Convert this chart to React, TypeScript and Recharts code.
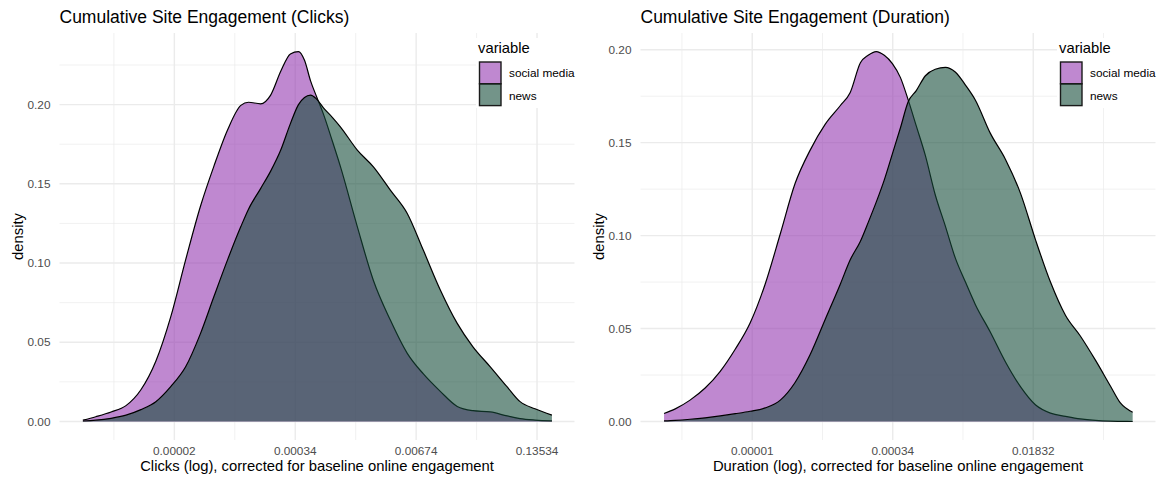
import React from 'react';
import { AreaChart, Area, XAxis, YAxis, CartesianGrid } from 'recharts';

const FONT = '"Liberation Sans", Arial, Helvetica, sans-serif';

// Series colours (drawn at 60% opacity, news on top of social media)
const SOCIAL_COLOR = '#9439B1';
const NEWS_COLOR = '#164D3A';
const FILL_OPACITY = 0.6;

const seriesNames = ['social media', 'news'];

// ---- Clicks panel: log(clicks) positions and density estimates ----
const clicksX = [
  -13.27, -12.95, -12.57, -12.2, -11.83, -11.46, -11.09, -10.72, -10.35, -10.02,
  -9.68, -9.35, -9.16, -8.86, -8.61, -8.36, -8.12, -7.92, -7.77, -7.62,
  -7.47, -7.3, -7.08, -6.88, -6.46, -6.06, -5.64, -5.22, -4.82, -4.4,
  -3.98, -3.59, -3.16, -2.74, -2.42, -2.05, -1.63,
];
const clicksSocial = [
  0.0008, 0.003, 0.006, 0.01, 0.02, 0.038, 0.066, 0.102, 0.136, 0.161,
  0.184, 0.1995, 0.2015, 0.2005, 0.206, 0.221, 0.232, 0.2335, 0.228, 0.215,
  0.205, 0.194, 0.177, 0.161, 0.123, 0.089, 0.064, 0.043, 0.03, 0.019,
  0.0095, 0.0068, 0.006, 0.0035, 0.0018, 0.0009, 0.0004,
];
const clicksNews = [
  0.0003, 0.0008, 0.002, 0.004, 0.0075, 0.0125, 0.022, 0.0345, 0.0556, 0.0787,
  0.102, 0.123, 0.134, 0.147, 0.158, 0.1713, 0.188, 0.2, 0.2045, 0.206,
  0.2035, 0.198, 0.192, 0.186, 0.1713, 0.1607, 0.146, 0.1313, 0.108, 0.083,
  0.0619, 0.0471, 0.0345, 0.0218, 0.0125, 0.008, 0.004,
];
const clicksTicks = [-11, -8, -5, -2];
const clicksTickLabels = ['0.00002', '0.00034', '0.00674', '0.13534'];
const clicksMinorX = [-12.5, -9.5, -6.5, -3.5];
const clicksDensityTicks = [0, 0.05, 0.1, 0.15, 0.2];
const clicksMinorY = [0.025, 0.075, 0.125, 0.175, 0.225];
const clicksXDomain = [-13.85, -1.07];
const clicksYDomain = [-0.0117, 0.2452];

// ---- Duration panel: log(duration) positions and density estimates ----
const durationX = [
  -14.51, -14.19, -13.77, -13.34, -12.91, -12.48, -12.06, -11.63, -11.2, -10.78,
  -10.35, -9.92, -9.49, -9.21, -8.92, -8.7, -8.47, -8.24, -8.01, -7.78,
  -7.56, -7.33, -7.07, -6.79, -6.5, -6.22, -5.93, -5.65, -5.22, -4.79,
  -4.36, -3.94, -3.51, -3.08, -2.66, -2.23, -1.8, -1.52, -1.17,
];
const durationSocial = [
  0.0043, 0.0068, 0.0115, 0.018, 0.027, 0.039, 0.053, 0.074, 0.101, 0.128,
  0.146, 0.16, 0.17, 0.177, 0.193, 0.197, 0.199, 0.197, 0.1925, 0.185,
  0.173, 0.159, 0.143, 0.122, 0.105, 0.088, 0.075, 0.063, 0.048, 0.032,
  0.0186, 0.009, 0.0045, 0.0028, 0.0014, 0.0006, 0.0002, 0.0001, 0.0,
];
const durationNews = [
  0.0003, 0.0006, 0.0012, 0.002, 0.003, 0.0042, 0.0055, 0.0073, 0.0115, 0.021,
  0.036, 0.055, 0.074, 0.087, 0.097, 0.107, 0.118, 0.13, 0.144, 0.158,
  0.172, 0.178, 0.186, 0.1895, 0.1905, 0.188, 0.181, 0.173, 0.155, 0.141,
  0.1226, 0.098, 0.075, 0.057, 0.046, 0.033, 0.019, 0.01, 0.005,
];
const durationTicks = [-12, -8, -4];
const durationTickLabels = ['0.00001', '0.00034', '0.01832'];
const durationMinorX = [-14, -10, -6, -2];
const durationDensityTicks = [0, 0.05, 0.1, 0.15, 0.2];
const durationMinorY = [0.025, 0.075, 0.125, 0.175];
const durationXDomain = [-15.18, -0.52];
const durationYDomain = [-0.00995, 0.209];

const PANEL_W = 581;
const PANEL_H = 478;

type PanelProps = {
  x: number[];
  social: number[];
  news: number[];
  xTicks: number[];
  xLabels: string[];
  xMinor: number[];
  xDomain: number[];
  yTicks: number[];
  yMinor: number[];
  yDomain: number[];
};

function DensityPanel(p: PanelProps) {
  const data = p.x.map((x, i) => ({ x, social: p.social[i], news: p.news[i] }));
  const tickStyle = { fill: '#4D4D4D', fontSize: 11.8, fontFamily: FONT };
  return (
    <AreaChart
      width={PANEL_W}
      height={PANEL_H}
      data={data}
      margin={{ top: 33, right: 6.5, bottom: 0, left: 0 }}
    >
      <CartesianGrid
        stroke="#EBEBEB"
        strokeWidth={0.7}
        verticalValues={p.xMinor}
        horizontalValues={p.yMinor}
      />
      <CartesianGrid
        stroke="#EBEBEB"
        strokeWidth={1.4}
        verticalValues={p.xTicks}
        horizontalValues={p.yTicks}
      />
      <XAxis
        type="number"
        dataKey="x"
        domain={p.xDomain}
        ticks={p.xTicks}
        interval={0}
        allowDataOverflow
        tickFormatter={(v: number) => p.xLabels[p.xTicks.indexOf(v)] ?? ''}
        axisLine={false}
        tickLine={false}
        tickSize={0}
        tickMargin={7}
        height={38}
        tick={tickStyle}
      />
      <YAxis
        type="number"
        domain={p.yDomain}
        ticks={p.yTicks}
        interval={0}
        allowDataOverflow
        tickFormatter={(v: number) => v.toFixed(2)}
        axisLine={false}
        tickLine={false}
        tickSize={0}
        tickMargin={9}
        width={59.5}
        tick={tickStyle}
      />
      <Area
        type="monotone"
        dataKey="social"
        name={seriesNames[0]}
        baseValue={0}
        fill={SOCIAL_COLOR}
        fillOpacity={FILL_OPACITY}
        stroke="#000000"
        strokeWidth={1.2}
        dot={false}
        activeDot={false}
        isAnimationActive={false}
      />
      <Area
        type="monotone"
        dataKey="news"
        name={seriesNames[1]}
        baseValue={0}
        fill={NEWS_COLOR}
        fillOpacity={FILL_OPACITY}
        stroke="#000000"
        strokeWidth={1.2}
        dot={false}
        activeDot={false}
        isAnimationActive={false}
      />
    </AreaChart>
  );
}

// Titles, axis titles and the "variable" legend for one panel
function PanelText({ title, xTitle }: { title: string; xTitle: string }) {
  const colors = [SOCIAL_COLOR, NEWS_COLOR];
  return (
    <svg
      width={PANEL_W}
      height={PANEL_H}
      style={{ position: 'absolute', left: 0, top: 0, pointerEvents: 'none' }}
      fontFamily={FONT}
    >
      <text x={59.5} y={23.3} fontSize={17.5} fill="#000">
        {title}
      </text>
      <text x={317} y={470.6} fontSize={14.8} fill="#000" textAnchor="middle">
        {xTitle}
      </text>
      <text
        transform="translate(22.5,236.5) rotate(-90)"
        fontSize={14.8}
        fill="#000"
        textAnchor="middle"
      >
        density
      </text>
      <rect x={476} y={38} width={105} height={70} fill="#FFFFFF" />
      <text x={478} y={53} fontSize={14.8} fill="#000">
        variable
      </text>
      {seriesNames.map((name, i) => (
        <g key={name}>
          <rect
            x={479.5}
            y={62 + i * 21.8}
            width={21.5}
            height={21.8}
            fill={colors[i]}
            fillOpacity={FILL_OPACITY}
            stroke="#1A1A1A"
            strokeWidth={1.4}
          />
          <text x={509} y={77 + i * 23} fontSize={11.8} fill="#000">
            {name}
          </text>
        </g>
      ))}
    </svg>
  );
}

export default function App() {
  return (
    <div
      style={{
        position: 'absolute',
        left: 0,
        top: 0,
        width: 1162,
        height: 478,
        background: '#FFFFFF',
      }}
    >
      <div style={{ position: 'absolute', left: 0, top: 0, width: PANEL_W, height: PANEL_H }}>
        <DensityPanel
          x={clicksX}
          social={clicksSocial}
          news={clicksNews}
          xTicks={clicksTicks}
          xLabels={clicksTickLabels}
          xMinor={clicksMinorX}
          xDomain={clicksXDomain}
          yTicks={clicksDensityTicks}
          yMinor={clicksMinorY}
          yDomain={clicksYDomain}
        />
        <PanelText
          title="Cumulative Site Engagement (Clicks)"
          xTitle="Clicks (log), corrected for baseline online engagement"
        />
      </div>
      <div style={{ position: 'absolute', left: 581, top: 0, width: PANEL_W, height: PANEL_H }}>
        <DensityPanel
          x={durationX}
          social={durationSocial}
          news={durationNews}
          xTicks={durationTicks}
          xLabels={durationTickLabels}
          xMinor={durationMinorX}
          xDomain={durationXDomain}
          yTicks={durationDensityTicks}
          yMinor={durationMinorY}
          yDomain={durationYDomain}
        />
        <PanelText
          title="Cumulative Site Engagement (Duration)"
          xTitle="Duration (log), corrected for baseline online engagement"
        />
      </div>
    </div>
  );
}
